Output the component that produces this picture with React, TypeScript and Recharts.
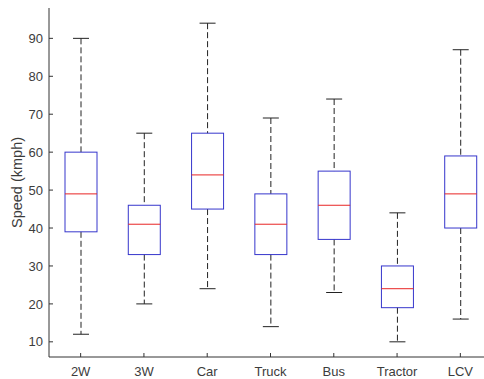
import { Bar, ComposedChart, Line, XAxis, YAxis } from "recharts";

const categories = ["2W", "3W", "Car", "Truck", "Bus", "Tractor", "LCV"];
const mins = [12, 20, 24, 14, 23, 10, 16];
const q1s = [39, 33, 45, 33, 37, 19, 40];
const medians = [49, 41, 54, 41, 46, 24, 49];
const q3s = [60, 46, 65, 49, 55, 30, 59];
const maxes = [90, 65, 94, 69, 74, 44, 87];
const yTicks = [10, 20, 30, 40, 50, 60, 70, 80, 90];

const data = categories.map((name, i) => ({
  name,
  min: mins[i],
  q1: q1s[i],
  median: medians[i],
  q3: q3s[i],
  max: maxes[i],
}));

const AXIS = "#333333";
const TEXT = "#3c3c3c";

// draws one box; pixel positions come from the range bar [min, max]
function BoxShape(props: any) {
  const { x, y, width, height, payload } = props;
  const top = Math.min(y, y + height);
  const h = Math.abs(height);
  const span = payload.max - payload.min;
  const py = (v: number) => top + ((payload.max - v) / span) * h;
  const cx = x + width / 2;
  const cap = width / 4;
  return (
    <g>
      <line x1={cx} x2={cx} y1={py(payload.max)} y2={py(payload.q3)} stroke="#222" strokeDasharray="6 3" />
      <line x1={cx} x2={cx} y1={py(payload.q1)} y2={py(payload.min)} stroke="#222" strokeDasharray="6 3" />
      <line x1={cx - cap} x2={cx + cap} y1={py(payload.max)} y2={py(payload.max)} stroke="#222" />
      <line x1={cx - cap} x2={cx + cap} y1={py(payload.min)} y2={py(payload.min)} stroke="#222" />
      <rect
        x={x}
        y={py(payload.q3)}
        width={width}
        height={py(payload.q1) - py(payload.q3)}
        fill="none"
        stroke="#3636cc"
      />
      <line x1={x} x2={x + width} y1={py(payload.median)} y2={py(payload.median)} stroke="#e82424" />
    </g>
  );
}

export default function App() {
  return (
    <div
      style={{
        position: "absolute",
        left: 0,
        top: 0,
        width: 484,
        height: 379,
        overflow: "hidden",
        background: "#fff",
        fontFamily: "'Liberation Sans', Arial, sans-serif",
      }}
    >
      <ComposedChart
        width={500}
        height={379}
        data={data}
        margin={{ top: 8, right: 8, left: 0, bottom: 0 }}
      >
        <XAxis
          dataKey="name"
          height={22}
          stroke={AXIS}
          tickSize={-4}
          tickMargin={14}
          tick={{ fill: TEXT, fontSize: 13 }}
          interval={0}
        />
        <XAxis
          xAxisId="top"
          orientation="top"
          dataKey="name"
          height={0}
          stroke={AXIS}
          tickSize={-4}
          tick={false}
          interval={0}
        />
        <YAxis
          type="number"
          domain={[6, 98]}
          ticks={yTicks}
          allowDataOverflow
          width={49}
          stroke={AXIS}
          tickSize={-4}
          tickMargin={10}
          tick={{ fill: TEXT, fontSize: 13 }}
          label={{
            value: "Speed (kmph)",
            angle: -90,
            position: "center",
            dx: -8,
            fill: TEXT,
            fontSize: 14.5,
          }}
        />
        <Bar
          dataKey={(d: any) => [d.min, d.max]}
          barSize={32}
          shape={(p: any) => <BoxShape {...p} />}
          isAnimationActive={false}
        />
        <Line
          xAxisId="top"
          dataKey="median"
          stroke="none"
          dot={false}
          activeDot={false}
          legendType="none"
          isAnimationActive={false}
        />
      </ComposedChart>
    </div>
  );
}
